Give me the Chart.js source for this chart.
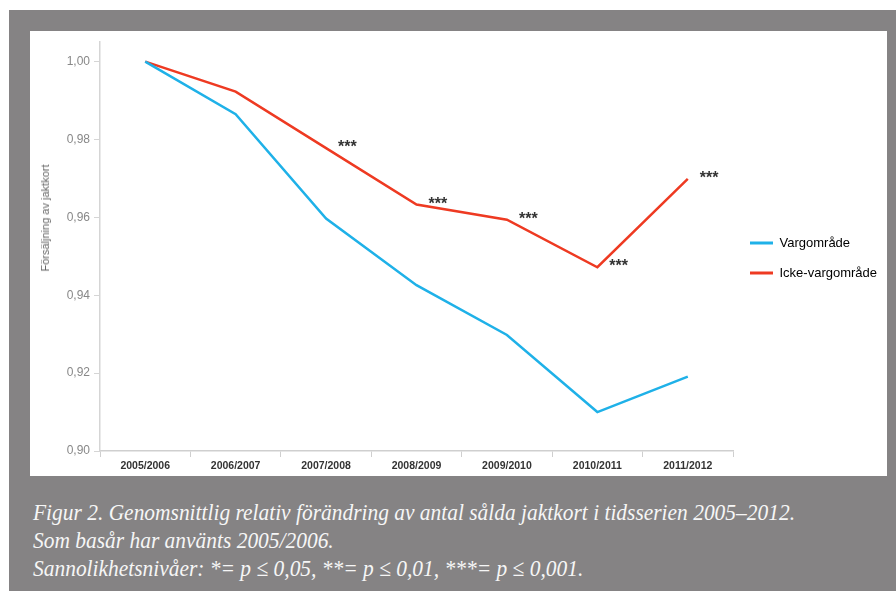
<!DOCTYPE html>
<html>
<head>
<meta charset="utf-8">
<script src="https://cdn.jsdelivr.net/npm/chart.js@4.4.0/dist/chart.umd.min.js"></script>
<style>
  html, body { margin: 0; padding: 0; background: #ffffff; width: 896px; height: 591px; overflow: hidden; }
  #frame { position: absolute; left: 9px; top: 10px; width: 887px; height: 581px; background: #858384; }
  #panel { position: absolute; left: 30px; top: 31px; width: 857px; height: 445px; background: #ffffff; }
  #ytitle { position: absolute; left: 45px; top: 218px; transform: translate(-50%, -50%) rotate(-90deg);
            font-family: "Liberation Sans", Arial, sans-serif; font-size: 11px; color: #666; white-space: nowrap; }
  #caption { position: absolute; left: 33px; top: 498px; color: #f6f6f6; font-family: "Liberation Serif", serif;
             font-style: italic; font-size: 24px; line-height: 28px; white-space: nowrap; transform-origin: 0 0; }
  #caption div { display: block; }
</style>
</head>
<body>
<div id="frame"></div>
<div id="panel"><canvas id="c" width="857" height="445"></canvas></div>
<div id="ytitle">Försäljning av jaktkort</div>
<div id="caption">
  <div><span id="cap1">Figur 2. Genomsnittlig relativ förändring av antal sålda jaktkort i tidsserien 2005–2012.</span></div>
  <div>Som basår har använts 2005/2006.</div>
  <div>Sannolikhetsnivåer: *= p ≤ 0,05, **= p ≤ 0,01, ***= p ≤ 0,001.</div>
</div>
<script>
const categories = ['2005/2006', '2006/2007', '2007/2008', '2008/2009', '2009/2010', '2010/2011', '2011/2012'];
const vargomrade = [1.000, 0.9865, 0.9597, 0.9426, 0.9298, 0.9100, 0.9191];
const ickeVargomrade = [1.000, 0.9923, 0.9778, 0.9633, 0.9594, 0.9472, 0.9699];
const significance = ['', '', '***', '***', '***', '***', '***'];
const seriesNames = ['Vargområde', 'Icke-vargområde'];
const yTicks = [0.90, 0.92, 0.94, 0.96, 0.98, 1.00];

const BLUE = '#1fb1e8';
const RED = '#ee3a22';

const sigPlugin = {
  id: 'sig',
  afterDatasetsDraw(chart) {
    const meta = chart.getDatasetMeta(1);
    const ctx = chart.ctx;
    ctx.save();
    ctx.font = 'bold 16px "Liberation Sans", Arial, sans-serif';
    ctx.fillStyle = '#333333';
    ctx.textAlign = 'left';
    ctx.textBaseline = 'alphabetic';
    significance.forEach((s, i) => {
      if (!s) return;
      const p = meta.data[i];
      ctx.fillText(s, p.x + 12, p.y + 4);
    });
    ctx.restore();
  }
};

new Chart(document.getElementById('c'), {
  type: 'line',
  data: {
    labels: categories,
    datasets: [
      { label: seriesNames[0], data: vargomrade, borderColor: BLUE, backgroundColor: BLUE, borderWidth: 2.5, pointRadius: 0, tension: 0 },
      { label: seriesNames[1], data: ickeVargomrade, borderColor: RED, backgroundColor: RED, borderWidth: 2.5, pointRadius: 0, tension: 0 }
    ]
  },
  options: {
    responsive: false,
    animation: false,
    layout: { padding: { top: 9, left: 0, right: 0, bottom: 0 } },
    plugins: {
      tooltip: { enabled: false },
      legend: {
        position: 'right',
        maxWidth: 154,
        labels: {
          boxWidth: 23,
          boxHeight: 3,
          padding: 17,
          color: '#555555',
          font: { family: '"Liberation Sans", Arial, sans-serif', size: 13 },
          generateLabels(chart) {
            return chart.data.datasets.map((ds, i) => ({
              text: ds.label, fillStyle: ds.borderColor, strokeStyle: ds.borderColor,
              lineWidth: 0, datasetIndex: i, hidden: false
            }));
          }
        }
      }
    },
    scales: {
      x: {
        offset: true,
        grid: { display: true, drawOnChartArea: false, offset: true, tickLength: 6, color: '#cfcfcf' },
        border: { color: '#cfcfcf', width: 1.5 },
        ticks: { color: '#333333', padding: 3, maxRotation: 0, font: { family: '"Liberation Sans", Arial, sans-serif', size: 10.5, weight: 'bold' } },
        afterFit(scale) { scale.height = 25; }
      },
      y: {
        min: 0.9,
        max: 1.005,
        afterBuildTicks(scale) { scale.ticks = yTicks.map(v => ({ value: v })); },
        grid: { display: true, drawOnChartArea: false, tickLength: 6, color: '#d5d5d5' },
        border: { color: '#d5d5d5', width: 1.5 },
        ticks: {
          color: '#888888', padding: 4,
          font: { family: '"Liberation Sans", Arial, sans-serif', size: 12 },
          callback: v => v.toFixed(2).replace('.', ',')
        },
        afterFit(scale) { scale.width = 70; }
      }
    }
  },
  plugins: [sigPlugin]
});

(function fitCaption() {
  const cap = document.getElementById('caption');
  const w = document.getElementById('cap1').getBoundingClientRect().width;
  cap.style.transform = 'scaleX(' + (762 / w) + ')';
})();
</script>
</body>
</html>
